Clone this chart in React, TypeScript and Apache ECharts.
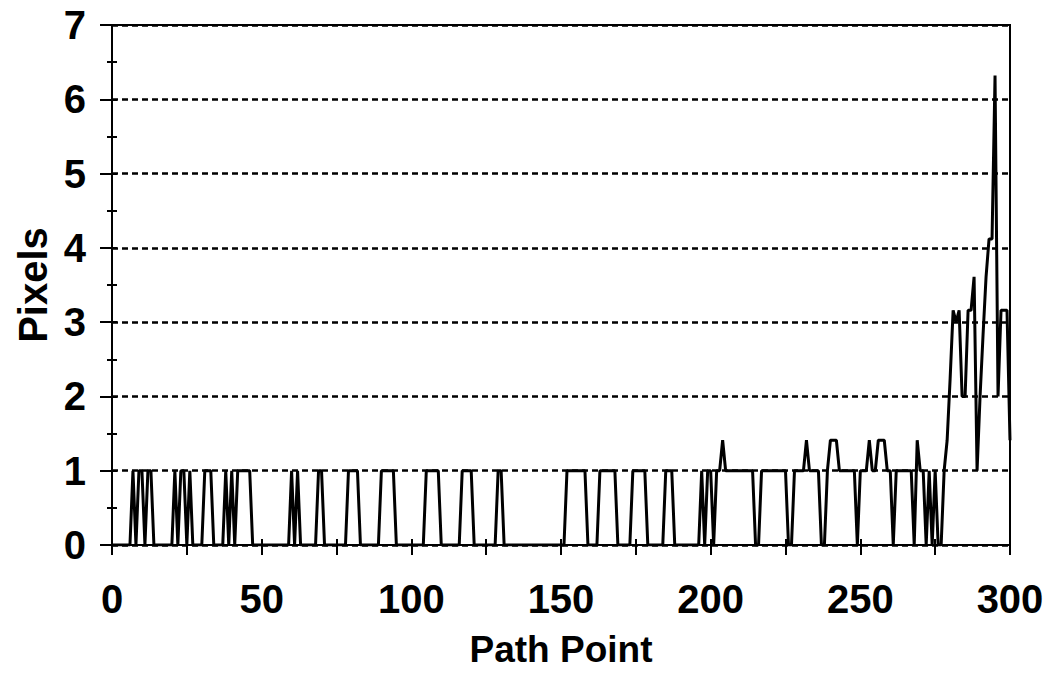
import React, { useEffect, useRef } from "react";
import * as echarts from "echarts";

// Path point index runs 0..300; value = pixel distance at that point
const xMin = 0;
const xMax = 300;
const yMin = 0;
const yMax = 7;

const pixels: number[] = [
  0, 0, 0, 0, 0, 0, 0, 1, 0, 1, 1, 0, 1, 1, 0, 0, 0, 0, 0, 0,
  0, 1, 0, 1, 1, 0, 1, 0, 0, 0, 0, 1, 1, 1, 0, 0, 0, 0, 1, 0,
  1, 0, 1, 1, 1, 1, 1, 0, 0, 0, 0, 0, 0, 0, 0, 0, 0, 0, 0, 0,
  1, 0, 1, 0, 0, 0, 0, 0, 0, 1, 1, 0, 0, 0, 0, 0, 0, 0, 0, 1,
  1, 1, 1, 0, 0, 0, 0, 0, 0, 0, 1, 1, 1, 1, 1, 0, 0, 0, 0, 0,
  0, 0, 0, 0, 0, 1, 1, 1, 1, 1, 0, 0, 0, 0, 0, 0, 0, 1, 1, 1,
  1, 0, 0, 0, 0, 0, 0, 0, 0, 1, 1, 0, 0, 0, 0, 0, 0, 0, 0, 0,
  0, 0, 0, 0, 0, 0, 0, 0, 0, 0, 0, 0, 1, 1, 1, 1, 1, 1, 1, 0,
  0, 0, 0, 1, 1, 1, 1, 1, 1, 0, 0, 0, 0, 0, 1, 1, 1, 1, 1, 0,
  0, 0, 0, 0, 0, 1, 1, 1, 0, 0, 0, 0, 0, 0, 0, 0, 0, 1, 0, 1,
  1, 0, 1, 1, 1.41, 1, 1, 1, 1, 1, 1, 1, 1, 1, 1, 0, 0, 1, 1, 1,
  1, 1, 1, 1, 1, 1, 0, 0, 1, 1, 1, 1, 1.41, 1, 1, 1, 1, 0, 0, 1,
  1.41, 1.41, 1.41, 1, 1, 1, 1, 1, 1, 0, 1, 1, 1, 1.41, 1, 1, 1.41, 1.41, 1.41, 1,
  1, 0, 1, 1, 1, 1, 1, 1, 0, 1.41, 1, 1, 0, 1, 0, 1, 0, 0, 1, 1.41,
  2.24, 3.16, 3, 3.16, 2, 2, 3.16, 3.16, 3.61, 1, 2, 2.83, 3.61, 4.12, 4.12, 6.32, 2, 3.16, 3.16, 3.16, 1.41,
];

const xTitle = "Path Point";
const yTitle = "Pixels";

const FONT = "'Liberation Sans', Arial, Helvetica, sans-serif";

export default function App() {
  const ref = useRef<HTMLDivElement>(null);

  useEffect(() => {
    if (!ref.current) return;
    const chart = echarts.init(ref.current, undefined, { renderer: "svg" });
    const data = pixels.map((v, i) => [i, v]);
    const labelStyle = {
      fontSize: 40,
      fontWeight: "bold" as const,
      color: "#000",
      fontFamily: FONT,
    };
    const black = { color: "#000", width: 2 };
    chart.setOption({
      animation: false,
      backgroundColor: "#fff",
      grid: {
        left: 112,
        right: 42,
        top: 25,
        bottom: 129,
        show: true,
        borderColor: "#000",
        borderWidth: 2,
        backgroundColor: "transparent",
        containLabel: false,
        outerBoundsMode: "none",
      },
      xAxis: [
        {
          type: "value",
          min: xMin,
          max: xMax,
          interval: 25,
          position: "bottom",
          axisLine: { show: true, lineStyle: black },
          axisTick: { show: true, inside: false, length: 10, lineStyle: black },
          axisLabel: {
            ...labelStyle,
            margin: 34,
            formatter: (v: number) => (v % 50 === 0 ? String(v) : ""),
          },
          splitLine: { show: false },
          name: xTitle,
          nameLocation: "middle",
          nameGap: 88,
          nameTextStyle: { ...labelStyle, fontSize: 37, lineHeight: 32 },
        },
        {
          type: "value",
          min: xMin,
          max: xMax,
          interval: 25,
          position: "bottom",
          axisLine: { show: false },
          axisTick: { show: true, inside: true, length: 6, lineStyle: black },
          axisLabel: { show: false },
          splitLine: { show: false },
        },
      ],
      yAxis: [
        {
          type: "value",
          min: yMin,
          max: yMax,
          interval: 1,
          position: "left",
          axisLine: { show: true, lineStyle: black },
          axisTick: { show: true, inside: false, length: 12, lineStyle: black },
          minorTick: { show: true, splitNumber: 2, length: 5, lineStyle: black },
          axisLabel: { ...labelStyle, margin: 26 },
          splitLine: {
            show: true,
            lineStyle: { color: "#000", width: 2.5, type: [6, 4] },
          },
          name: yTitle,
          nameLocation: "middle",
          nameGap: 54,
          nameRotate: 90,
          nameTextStyle: labelStyle,
        },
        {
          type: "value",
          min: yMin,
          max: yMax,
          interval: 0.5,
          position: "left",
          axisLine: { show: false },
          axisTick: { show: true, inside: true, length: 5, lineStyle: black },
          axisLabel: { show: false },
          splitLine: { show: false },
        },
      ],
      series: [
        {
          type: "line",
          xAxisIndex: 0,
          yAxisIndex: 0,
          data,
          showSymbol: false,
          symbol: "none",
          lineStyle: { color: "#000", width: 3 },
          z: 5,
        },
      ],
    });
    return () => chart.dispose();
  }, []);

  return (
    <div
      ref={ref}
      style={{ position: "absolute", left: 0, top: 0, width: 1052, height: 674, background: "#fff" }}
    />
  );
}
